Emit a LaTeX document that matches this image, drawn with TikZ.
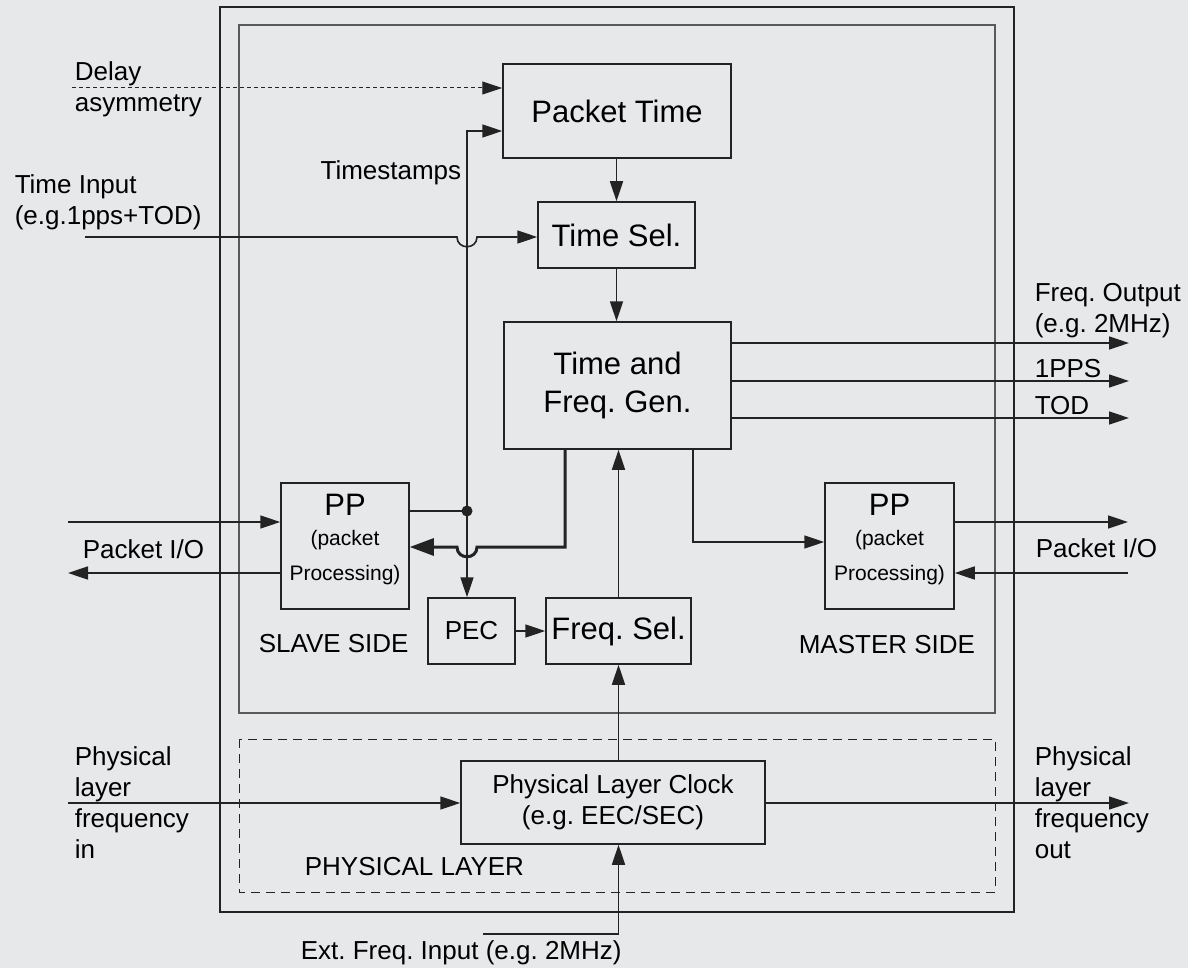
\documentclass[tikz,border=0pt]{standalone}
\usepackage{fontspec}
\setmainfont{Liberation Sans}
\usetikzlibrary{arrows.meta,positioning}
\definecolor{bgcol}{RGB}{231,232,234}
\definecolor{linecol}{RGB}{35,35,35}
\frenchspacing

\begin{document}
\begin{tikzpicture}[x=1pt,y=-1pt,>={Triangle[length=20pt,width=13pt]},line width=1.6pt,draw=linecol,
    block/.style={draw=linecol,line width=1.5pt,rectangle,inner sep=0pt,align=center,font=\fontsize{31}{38}\selectfont},
    lbl/.style={inner sep=0pt,align=left,font=\fontsize{26}{31}\selectfont},
    small/.style={inner sep=0pt,font=\fontsize{21}{25}\selectfont},
    bus/.style={line width=3pt,>={Triangle[length=24pt,width=17pt]}}]
    \fill[bgcol] (0,0) rectangle (1188,968);
    \useasboundingbox (0,0) rectangle (1188,968);

    % frames
    \draw[line width=2.5pt] (220,7) rectangle (1014,912);
    \draw[line width=2pt,draw=black!65] (239,25) rectangle (995,713);
    \draw[line width=1pt,dash pattern=on 9pt off 6pt] (239,739) rectangle (995,892);

    % blocks
    \node[block,minimum width=228,minimum height=94] (pkttime) at (617,111) {Packet Time};
    \node[block,minimum width=157,minimum height=66] (timesel) at (616.5,235) {Time Sel.};
    \node[block,minimum width=227,minimum height=127] (tfg) at (617.5,385.5) {Time and\\Freq. Gen.};
    \node[block,minimum width=128,minimum height=126] (ppslave) at (345,546) {};
    \node[block,minimum width=129,minimum height=126] (ppmaster) at (889.5,546) {};
    \node[block,minimum width=87,minimum height=66,font=\fontsize{26}{31}\selectfont] (pec) at (471.5,631) {PEC};
    \node[block,minimum width=145,minimum height=66] (freqsel) at (618.5,631) {Freq. Sel.};
    \node[block,minimum width=304,minimum height=83,font=\fontsize{26}{31}\selectfont] (plc) at (613,802.5) {Physical Layer Clock\\(e.g. EEC/SEC)};

    % texts inside the PP blocks
    \node[block,draw=none,anchor=base] (ppslaveA) at (ppslave.center |- 0,515) {PP};
    \node[small,anchor=base] (ppslaveB) at (ppslave.center |- 0,545) {(packet};
    \node[small,anchor=base] (ppslaveC) at (ppslave.center |- 0,580) {Processing)};
    \node[block,draw=none,anchor=base] (ppmasterA) at (ppmaster.center |- 0,515) {PP};
    \node[small,anchor=base] (ppmasterB) at (ppmaster.center |- 0,545) {(packet};
    \node[small,anchor=base] (ppmasterC) at (ppmaster.center |- 0,580) {Processing)};

    % end points
    \coordinate (delayin) at (72,88);
    \coordinate (tstop) at (467,131);
    \coordinate (tsdot) at (467,511);
    \coordinate (timein) at (85,237);
    \coordinate (freqout) at (1129,343);
    \coordinate (ppsout) at (1129,381);
    \coordinate (todout) at (1129,418);
    \coordinate (slavebus) at (565,547);
    \coordinate (masterbus) at (693,542);
    \coordinate (slavein) at (68,522);
    \coordinate (slaveout) at (68,573);
    \coordinate (masterout) at (1128,522);
    \coordinate (masterin) at (1128,573);
    \coordinate (physin) at (68,803);
    \coordinate (physout) at (1129,803);
    \coordinate (extin) at (483,934);

    % connectors
    \draw[->,line width=1pt,dash pattern=on 4pt off 3pt] (delayin) -- (delayin -| pkttime.west);
    \draw[->] (tsdot) -- (tstop) -- (tstop -| pkttime.west);
    \draw[->] (tsdot) -- (tsdot |- pec.north);
    \draw (ppslave.east |- tsdot) -- (tsdot);
    \fill[linecol] (tsdot) circle (5.5pt);
    \draw[->] (timein) -- ([xshift=-10pt]tstop |- timein) .. controls +(0,13) and +(0,13) .. ([xshift=10pt]tstop |- timein) -- (timesel.west |- timein);
    \draw[->] (pkttime.south -| timesel) -- (timesel.north);
    \draw[->] (timesel.south) -- (timesel.south |- tfg.north);
    \draw[->] (tfg.east |- freqout) -- (freqout);
    \draw[->] (tfg.east |- ppsout) -- (ppsout);
    \draw[->] (tfg.east |- todout) -- (todout);
    \draw[->,bus] (tfg.south -| slavebus) -- (slavebus) -- ([xshift=10pt]tsdot |- slavebus) .. controls +(0,13) and +(0,13) .. ([xshift=-10pt]tsdot |- slavebus) -- (ppslave.east |- slavebus);
    \draw[->] (tfg.south -| masterbus) -- (masterbus) -- (ppmaster.west |- masterbus);
    \draw[->] (freqsel.north) -- (freqsel.north |- tfg.south);
    \draw[->] (pec.east) -- (freqsel.west);
    \draw[->] (plc.north -| freqsel) -- (freqsel.south);
    \draw[->] (extin) -| (freqsel.south |- plc.south);
    \draw[->] (physin) -- (plc.west |- physin);
    \draw[->] (plc.east |- physout) -- (physout);
    \draw[->] (slavein) -- (ppslave.west |- slavein);
    \draw[->] (ppslave.west |- slaveout) -- (slaveout);
    \draw[->] (ppmaster.east |- masterout) -- (masterout);
    \draw[->] (masterin) -- (ppmaster.east |- masterin);

    % labels (base = last line)
    \node[lbl,anchor=base west] (delaylbl) at (74,112) {Delay\\asymmetry};
    \node[lbl,anchor=base east] (tslbl) at (462,180) {Timestamps};
    \node[lbl,anchor=base west] (timeinlbl) at (14,225) {Time Input\\(e.g.1pps+TOD)};
    \node[lbl,anchor=base west] (freqoutlbl) at (1034,332) {Freq. Output\\(e.g. 2MHz)};
    \node[lbl,anchor=base west] (ppslbl) at (1034,377) {1PPS};
    \node[lbl,anchor=base west] (todlbl) at (1034,414) {TOD};
    \node[lbl,anchor=base west] (slaveiolbl) at (82,558) {Packet I/O};
    \node[lbl,anchor=base west] (masteriolbl) at (1035,557) {Packet I/O};
    \node[lbl,anchor=base west] (slavelbl) at (258,652) {SLAVE SIDE};
    \node[lbl,anchor=base west] (masterlbl) at (798,653) {MASTER SIDE};
    \node[lbl,anchor=base west] (physinlbl) at (74,858) {Physical\\layer\\frequency\\in};
    \node[lbl,anchor=base west] (physoutlbl) at (1034,858) {Physical\\layer\\frequency\\out};
    \node[lbl,anchor=base west] (phylbl) at (304,875) {PHYSICAL LAYER};
    \node[lbl,anchor=base west] (extlbl) at (300,959) {Ext. Freq. Input (e.g. 2MHz)};
\end{tikzpicture}
\end{document}
